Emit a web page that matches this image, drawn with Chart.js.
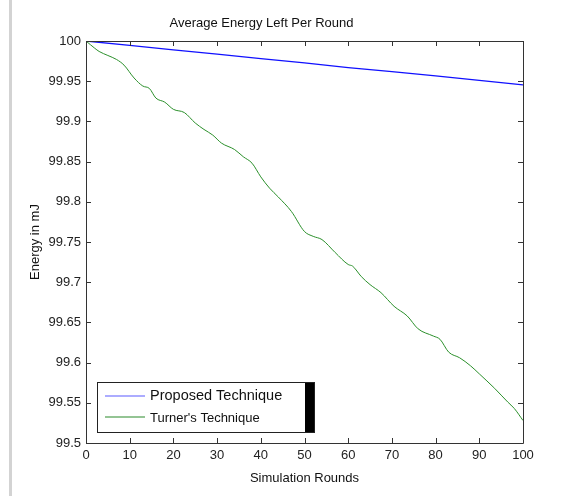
<!DOCTYPE html>
<html>
<head>
<meta charset="utf-8">
<script src="https://cdn.jsdelivr.net/npm/chart.js@4"></script>
<style>
html,body{margin:0;padding:0;background:#fff;}
#wrap{position:relative;width:573px;height:496px;}
</style>
</head>
<body>
<div id="wrap"><canvas id="c" width="573" height="496"></canvas></div>
<script>
const chartTitle = "Average Energy Left Per Round";
const xTitle = "Simulation Rounds";
const yTitle = "Energy in mJ";
const seriesNames = ["Proposed Technique", "Turner's Technique"];

const proposedRounds = [0, 10, 20, 30, 40, 50, 60, 70, 80, 90, 100];
const proposedEnergy = [100, 99.9945, 99.989, 99.9837, 99.978, 99.9727, 99.967, 99.9618, 99.9565, 99.951, 99.9455];

const turnerRounds = [0, 2, 3, 5, 7, 8.7, 11, 13, 14.5, 16, 18, 20, 22.5, 25, 27, 29, 31, 34, 36, 38, 40, 42, 44, 47, 50, 52, 54, 57, 60, 61, 63, 65, 67.5, 70.5, 73.5, 76, 79.5, 81, 83, 85.5, 88, 90, 93.5, 96.5, 98, 100];
const turnerEnergy = [100, 99.991, 99.987, 99.982, 99.977, 99.970, 99.954, 99.944, 99.941, 99.929, 99.924, 99.915, 99.911, 99.898, 99.890, 99.883, 99.873, 99.865, 99.856, 99.848, 99.831, 99.817, 99.806, 99.788, 99.763, 99.757, 99.753, 99.737, 99.722, 99.720, 99.707, 99.697, 99.687, 99.670, 99.658, 99.642, 99.633, 99.629, 99.613, 99.606, 99.596, 99.586, 99.568, 99.551, 99.543, 99.528];

const xTicks = [0, 10, 20, 30, 40, 50, 60, 70, 80, 90, 100];
const yTicks = [99.5, 99.55, 99.6, 99.65, 99.7, 99.75, 99.8, 99.85, 99.9, 99.95, 100];

const FONT = "'Liberation Sans', Arial, sans-serif";

const framePlugin = {
  id: 'frame',
  beforeDraw(chart) {
    const ctx = chart.ctx;
    ctx.save();
    ctx.fillStyle = '#d3d3d3';
    ctx.fillRect(9, 0, 3, 496);
    ctx.restore();
  },
  afterDraw(chart) {
    const ctx = chart.ctx;
    const a = chart.chartArea;
    const xs = chart.scales.x, ys = chart.scales.y;
    ctx.save();
    ctx.strokeStyle = '#333';
    ctx.lineWidth = 1;
    ctx.beginPath();
    ctx.rect(Math.round(a.left) + 0.5, Math.round(a.top) + 0.5, Math.round(a.right - a.left), Math.round(a.bottom - a.top));
    ctx.stroke();
    const tl = 5;
    ctx.beginPath();
    xTicks.forEach(v => {
      const px = Math.round(xs.getPixelForValue(v)) + 0.5;
      ctx.moveTo(px, a.bottom); ctx.lineTo(px, a.bottom - tl);
      ctx.moveTo(px, a.top); ctx.lineTo(px, a.top + tl);
    });
    yTicks.forEach(v => {
      const py = Math.round(ys.getPixelForValue(v)) + 0.5;
      ctx.moveTo(a.left, py); ctx.lineTo(a.left + tl, py);
      ctx.moveTo(a.right, py); ctx.lineTo(a.right - tl, py);
    });
    ctx.stroke();

    // legend
    const lx = 97, ly = 382, lw = 217, lh = 50;
    ctx.fillStyle = '#fff';
    ctx.fillRect(lx, ly, lw, lh);
    ctx.fillStyle = '#000';
    ctx.fillRect(lx + lw - 9, ly, 9, lh);
    ctx.strokeStyle = '#222';
    ctx.strokeRect(lx + 0.5, ly + 0.5, lw, lh);
    ctx.lineWidth = 1.2;
    ctx.strokeStyle = 'rgb(90,90,255)';
    ctx.beginPath(); ctx.moveTo(105, 396); ctx.lineTo(145, 396); ctx.stroke();
    ctx.strokeStyle = '#2a8a2a';
    ctx.beginPath(); ctx.moveTo(105, 417); ctx.lineTo(145, 417); ctx.stroke();
    ctx.fillStyle = '#111';
    ctx.textBaseline = 'middle';
    ctx.textAlign = 'left';
    ctx.font = "14.5px " + FONT;
    ctx.fillText(seriesNames[0], 150, 396);
    ctx.font = "13px " + FONT;
    ctx.fillText(seriesNames[1], 150, 418);
    ctx.restore();
  }
};

new Chart(document.getElementById('c'), {
  type: 'line',
  data: {
    datasets: [
      {
        label: seriesNames[0],
        data: proposedRounds.map((r, i) => ({x: r, y: proposedEnergy[i]})),
        borderColor: '#1010ff',
        borderWidth: 1.3,
        pointRadius: 0,
        fill: false
      },
      {
        label: seriesNames[1],
        data: turnerRounds.map((r, i) => ({x: r, y: turnerEnergy[i]})),
        borderColor: '#2a8f2a',
        borderWidth: 1,
        pointRadius: 0,
        cubicInterpolationMode: 'monotone',
        fill: false
      }
    ]
  },
  options: {
    responsive: false,
    animation: false,
    devicePixelRatio: 1,
    layout: { padding: { left: 0, right: 50, top: 0, bottom: 0 } },
    plugins: {
      legend: { display: false },
      tooltip: { enabled: false },
      title: {
        display: true,
        text: chartTitle,
        color: '#111',
        font: { family: FONT, size: 13, weight: 'normal', lineHeight: 1.2 },
        padding: { top: 16, bottom: 9.4 }
      }
    },
    scales: {
      x: {
        type: 'linear',
        min: 0, max: 100,
        grid: { display: false, drawTicks: false, tickLength: 0 },
        border: { display: false },
        afterBuildTicks: s => { s.ticks = xTicks.map(v => ({value: v})); },
        afterFit: s => { s.height = 53; s.paddingLeft = 0; s.paddingRight = 0; },
        ticks: {
          color: '#222', padding: 5, maxRotation: 0, autoSkip: false,
          font: { family: FONT, size: 13 },
          callback: v => String(v)
        },
        title: {
          display: true, text: xTitle, color: '#111',
          font: { family: FONT, size: 13 },
          padding: { top: 4, bottom: 10 }
        }
      },
      y: {
        type: 'linear',
        min: 99.5, max: 100,
        grid: { display: false, drawTicks: false, tickLength: 0 },
        border: { display: false },
        afterBuildTicks: s => { s.ticks = yTicks.map(v => ({value: v})); },
        afterFit: s => { s.width = 86; s.paddingTop = 0; s.paddingBottom = 0; },
        ticks: {
          color: '#222', padding: 5, autoSkip: false,
          font: { family: FONT, size: 13 },
          callback: v => String(Number(v.toFixed(2)))
        },
        title: {
          display: true, text: yTitle, color: '#111',
          font: { family: FONT, size: 13 },
          padding: { top: 28, bottom: 0 }
        }
      }
    }
  },
  plugins: [framePlugin]
});
</script>
</body>
</html>
